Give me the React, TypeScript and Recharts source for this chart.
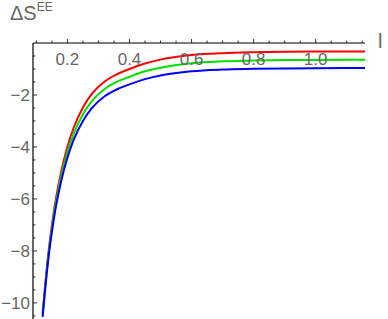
import { LineChart, Line, XAxis, YAxis } from 'recharts';

// subsystem size l and the three entanglement curves
const lValues = [0.12, 0.13, 0.14, 0.15, 0.16, 0.17, 0.18, 0.2, 0.22, 0.25, 0.28, 0.32, 0.36, 0.4, 0.45, 0.5, 0.6, 0.7, 0.8, 0.9, 1.0, 1.1, 1.16];
const redValues = [-10.39, -9.08, -7.93, -7.01, -6.19, -5.53, -4.94, -3.99, -3.26, -2.48, -1.94, -1.48, -1.2, -1.0, -0.79, -0.64, -0.465, -0.39, -0.355, -0.338, -0.33, -0.325, -0.323];
const greenValues = [-10.46, -9.17, -8.04, -7.14, -6.34, -5.7, -5.12, -4.2, -3.5, -2.74, -2.22, -1.77, -1.49, -1.3, -1.09, -0.95, -0.775, -0.705, -0.675, -0.658, -0.65, -0.645, -0.643];
const blueValues = [-10.54, -9.26, -8.15, -7.27, -6.49, -5.86, -5.3, -4.41, -3.73, -3.0, -2.49, -2.05, -1.78, -1.59, -1.39, -1.25, -1.085, -1.02, -0.995, -0.978, -0.97, -0.965, -0.963];

const xTicks = [0.1, 0.15, 0.2, 0.25, 0.3, 0.35, 0.4, 0.45, 0.5, 0.55, 0.6, 0.65, 0.7, 0.75, 0.8, 0.85, 0.9, 0.95, 1.0, 1.05, 1.1, 1.15];
const xMajor = [0.2, 0.4, 0.6, 0.8, 1.0];
const yTicks = [-0.5, -1, -1.5, -2, -2.5, -3, -3.5, -4, -4.5, -5, -5.5, -6, -6.5, -7, -7.5, -8, -8.5, -9, -9.5, -10, -10.5];
const yMajor = [-2, -4, -6, -8, -10];

const data = lValues.map((l, i) => ({
  l,
  red: redValues[i],
  green: greenValues[i],
  blue: blueValues[i],
}));

const labelColor = '#666666';
const font = '"Liberation Sans", Arial, sans-serif';

const isMajor = (list: number[], v: number) => list.some((m) => Math.abs(m - v) < 1e-6);

const XTick = (props: any) => {
  const { x, y, payload } = props;
  const major = isMajor(xMajor, payload.value);
  return (
    <g>
      <line x1={x} x2={x} y1={y} y2={y - (major ? 4 : 2.5)} stroke="#000" strokeWidth={0.8} />
      {major && (
        <text x={x} y={y + 22} textAnchor="middle" fill={labelColor} fontSize={17} fontFamily={font}>
          {payload.value.toFixed(1)}
        </text>
      )}
    </g>
  );
};

const YTick = (props: any) => {
  const { x, y, payload } = props;
  const major = isMajor(yMajor, payload.value);
  return (
    <g>
      <line x1={x} x2={x + (major ? 4 : 2.5)} y1={y} y2={y} stroke="#000" strokeWidth={0.8} />
      {major && (
        <text x={x - 3} y={y + 6} textAnchor="end" fill={labelColor} fontSize={17} fontFamily={font}>
          {'\u2212' + Math.abs(payload.value)}
        </text>
      )}
    </g>
  );
};

export default function App() {
  return (
    <div style={{ position: 'absolute', left: 0, top: 0, width: 388, height: 319, background: '#fff', overflow: 'hidden' }}>
      <LineChart width={388} height={319} data={data} margin={{ top: 13, right: 23, bottom: 0, left: 0 }}>
        <XAxis
          dataKey="l"
          type="number"
          orientation="top"
          domain={[0.089, 1.159]}
          allowDataOverflow
          ticks={xTicks}
          interval={0}
          height={30}
          tickSize={0}
          tickMargin={0}
          tick={<XTick />}
          axisLine={{ stroke: '#000', strokeWidth: 1.2 }}
        />
        <YAxis
          type="number"
          domain={[-10.62, 0]}
          allowDataOverflow
          ticks={yTicks}
          interval={0}
          width={33}
          tickSize={0}
          tickMargin={0}
          tick={<YTick />}
          axisLine={{ stroke: '#000', strokeWidth: 1.2 }}
        />
        <Line type="monotone" dataKey="red" stroke="#ff0000" strokeWidth={2} dot={false} isAnimationActive={false} />
        <Line type="monotone" dataKey="green" stroke="#00e000" strokeWidth={2} dot={false} isAnimationActive={false} />
        <Line type="monotone" dataKey="blue" stroke="#0000ff" strokeWidth={2} dot={false} isAnimationActive={false} />
      </LineChart>
      <div style={{ position: 'absolute', left: 10, top: 3, fontFamily: font, fontSize: 20, color: labelColor, lineHeight: 1 }}>
        ΔS<sup style={{ fontSize: 12, verticalAlign: 'top', position: 'relative', top: -2 }}>EE</sup>
      </div>
      <div style={{ position: 'absolute', left: 378, top: 31, fontFamily: font, fontSize: 20, color: labelColor, lineHeight: 1 }}>
        l
      </div>
    </div>
  );
}
